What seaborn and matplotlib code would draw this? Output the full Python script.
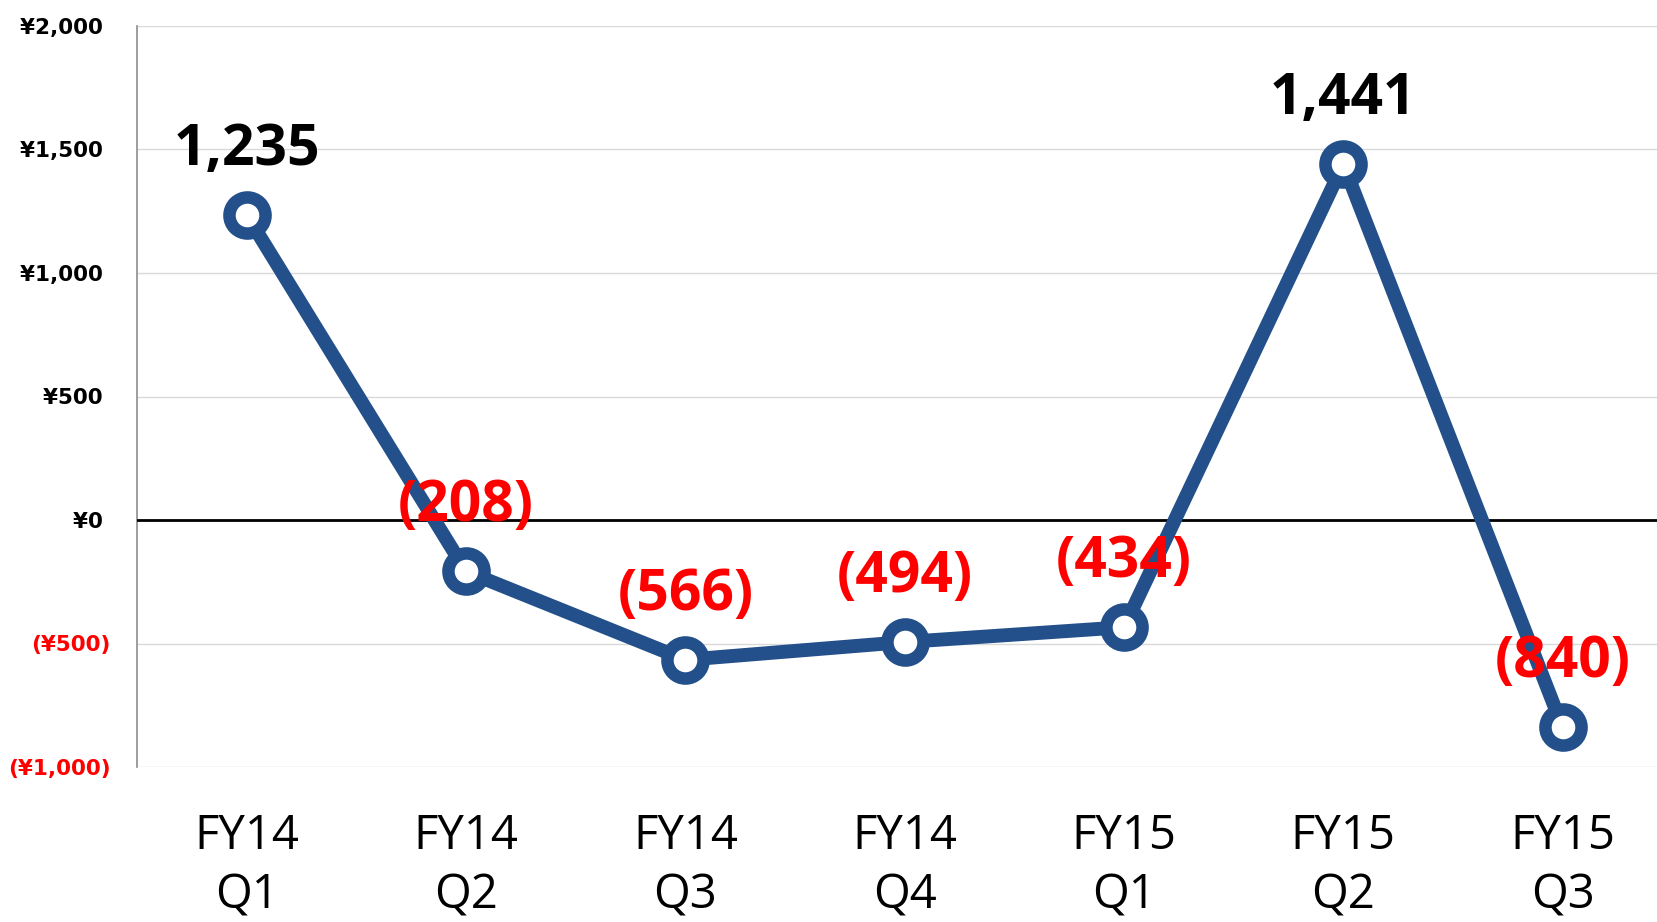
import matplotlib
matplotlib.use("Agg")
import matplotlib.pyplot as plt
import seaborn as sns
import pandas as pd

categories = ["FY14\nQ1", "FY14\nQ2", "FY14\nQ3", "FY14\nQ4", "FY15\nQ1", "FY15\nQ2", "FY15\nQ3"]
values = [1235, -208, -566, -494, -434, 1441, -840]
y_ticks = [-1000, -500, 0, 500, 1000, 1500, 2000]
y_tick_labels = ["(¥1,000)", "(¥500)", "¥0 ", "¥500 ", "¥1,000 ", "¥1,500 ", "¥2,000 "]

sns.set_theme(style="white")
plt.rcParams["font.family"] = ["DejaVu Sans"]

df = pd.DataFrame({"quarter": categories, "value": values})

fig = plt.figure(figsize=(16.57, 9.22), dpi=100)
ax = fig.add_axes([137 / 1657, 1 - 767 / 922, 1 - 137 / 1657, (767 - 26) / 922])

line_color = "#23508a"
sns.lineplot(data=df, x="quarter", y="value", ax=ax, color=line_color, linewidth=10,
             marker="o", markersize=26, markeredgewidth=9, markeredgecolor=line_color,
             markerfacecolor="white", sort=False, clip_on=False, zorder=5)

ax.set_ylim(-1000, 2000)
ax.set_xlim(-0.5, 6.43)
ax.set_yticks(y_ticks)
ax.set_yticklabels(y_tick_labels)
for lab, v in zip(ax.get_yticklabels(), y_ticks):
    lab.set_fontweight("bold")
    lab.set_fontsize(15.5)
    lab.set_color("#ff0000" if v < 0 else "black")
    lab.set_family("DejaVu Sans")
ax.tick_params(axis="y", length=0, pad=19)
ax.tick_params(axis="x", length=0, pad=33)
for lab in ax.get_xticklabels():
    lab.set_fontsize(34)
    lab.set_family("Open Sans")
    lab.set_linespacing(1.32)
    lab.set_color("black")

ax.set_xlabel("")
ax.set_ylabel("")
ax.grid(axis="y", color="#d9d9d9", linewidth=1)
ax.grid(axis="x", visible=False)
ax.axhline(0, color="black", linewidth=2, zorder=3)
for s in ["top", "right", "bottom"]:
    ax.spines[s].set_visible(False)
ax.spines["left"].set_color("#8c8c8c")
ax.spines["left"].set_linewidth(1.2)

for i, v in enumerate(values):
    txt = f"{v:,}" if v >= 0 else f"({abs(v):,})"
    ax.annotate(txt, (i, v), xytext=(0, 47), textcoords="offset points",
                ha="center", va="center", fontsize=41, fontweight="bold",
                family="Open Sans", color="black" if v >= 0 else "#ff0000", zorder=10)

fig.savefig("out.png", dpi=100)
